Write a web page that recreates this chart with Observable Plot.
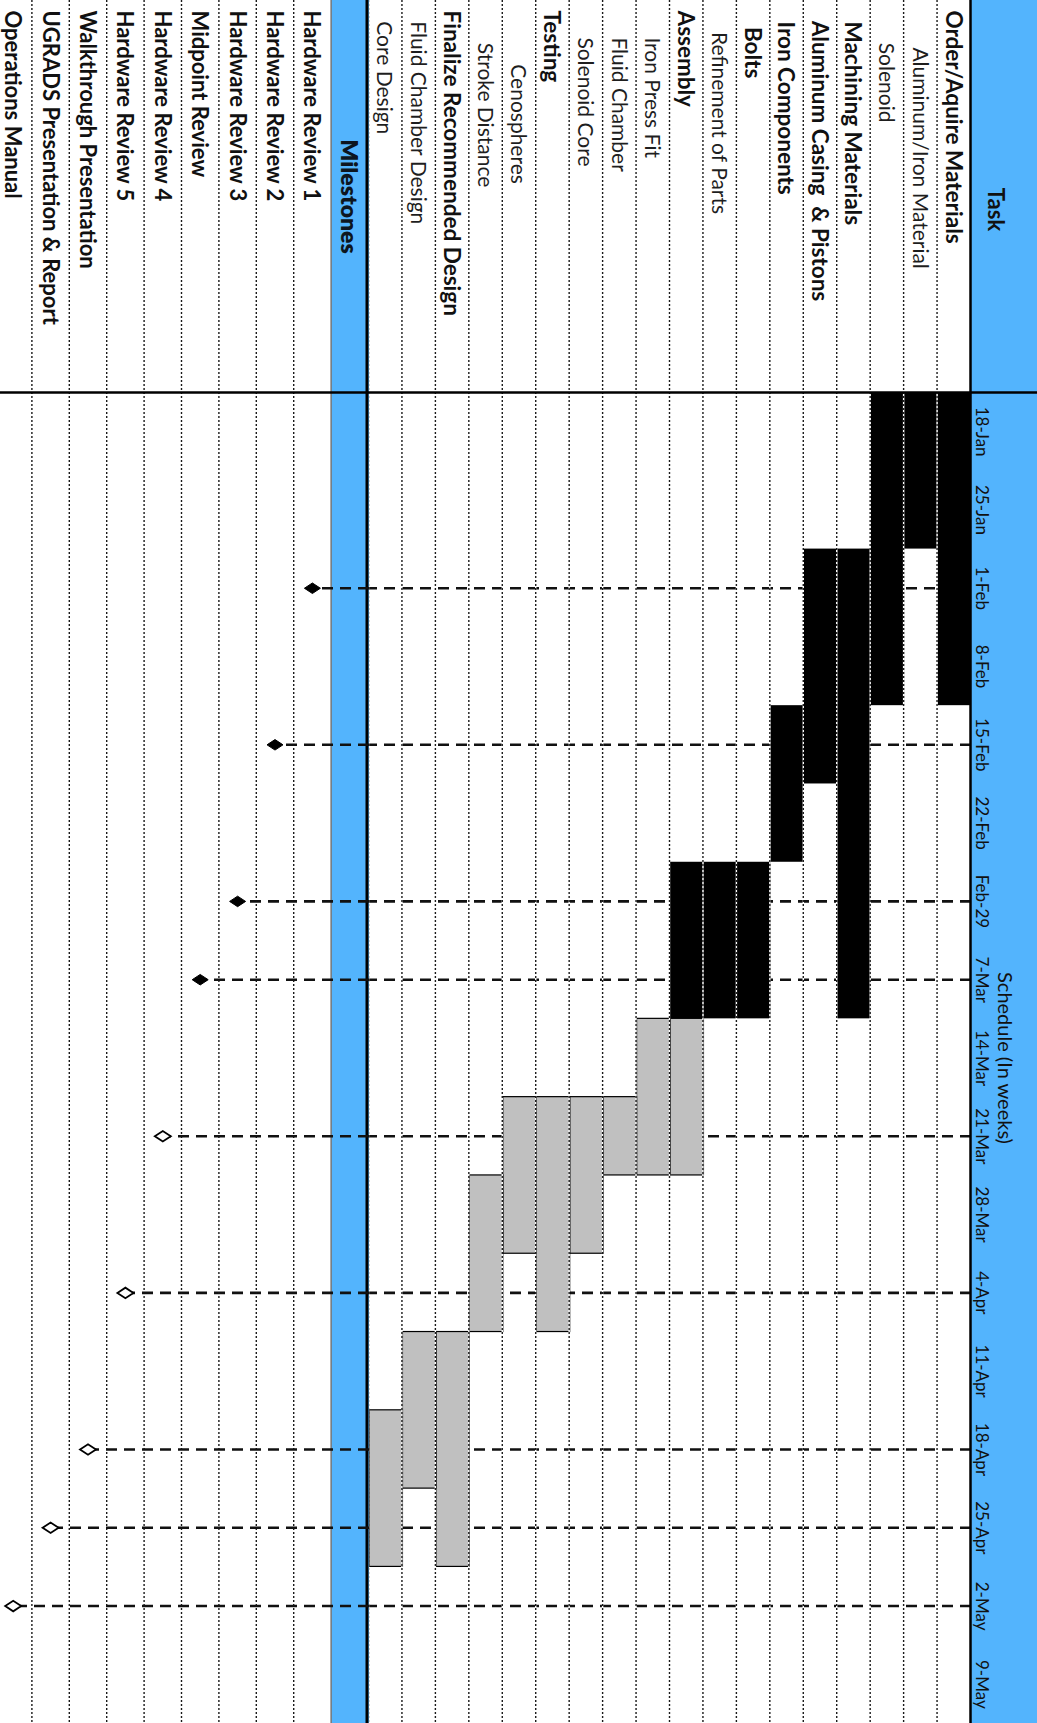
<!DOCTYPE html>
<html>
<head>
<meta charset="utf-8">
<script src="https://cdn.jsdelivr.net/npm/d3@7"></script>
<script src="https://cdn.jsdelivr.net/npm/@observablehq/plot@0.6"></script>
<style>
  html, body { margin: 0; padding: 0; background: #fff; overflow: hidden; }
  #sheet {
    position: absolute; left: 1037px; top: 0;
    width: 1723px; height: 1037px;
    transform-origin: 0 0; transform: rotate(90deg);
    background: #fff; color: #111; font-family: Lato, "Open Sans", sans-serif;
  }
  #sheet svg { display: block; white-space: pre; }
</style>
</head>
<body>
<div id="sheet"></div>
<script>
// ---------------- data ----------------
const weeks = ["18-Jan","25-Jan","1-Feb","8-Feb","15-Feb","22-Feb","Feb-29","7-Mar","14-Mar",
               "21-Mar","28-Mar","4-Apr","11-Apr","18-Apr","25-Apr","2-May","9-May"];

const taskNames = [
  "Order/Aquire Materials",
  "       Aluminum/Iron Material",
  "      Solenoid",
  "  Machining Materials",
  "  Aluminum Casing  & Pistons",
  "  Iron Components",
  "   Bolts",
  "    Refinement of Parts",
  "Assembly",
  "     Iron Press Fit",
  "     Fluid Chamber",
  "     Solenoid Core",
  "Testing",
  "          Cenospheres",
  "      Stroke Distance",
  "Finalize Recommended Design",
  "  Fluid Chamber Design",
  "  Core Design"
];
const taskBold = [true,false,false,true,true,true,true,false,true,false,false,false,true,false,false,true,false,false];

// schedule bars: task row, first week, last week (inclusive), status
const barTask   = [0,1,2,3,4,5,6,7,8,8,9,10,11,12,13,14,15,16,17];
const barStart  = ["18-Jan","18-Jan","18-Jan","1-Feb","1-Feb","15-Feb","Feb-29","Feb-29","Feb-29","14-Mar","14-Mar",
                   "21-Mar","21-Mar","21-Mar","21-Mar","28-Mar","11-Apr","11-Apr","18-Apr"];
const barEnd    = ["8-Feb","25-Jan","8-Feb","7-Mar","15-Feb","22-Feb","7-Mar","7-Mar","7-Mar","21-Mar","21-Mar",
                   "21-Mar","28-Mar","4-Apr","28-Mar","4-Apr","25-Apr","18-Apr","25-Apr"];
const barStatus = ["done","done","done","done","done","done","done","done","done","planned","planned",
                   "planned","planned","planned","planned","planned","planned","planned","planned"];

const sectionLabel = "Milestones";
const milestoneNames = ["Hardware Review 1","Hardware Review 2","Hardware Review 3","Midpoint Review",
                        "Hardware Review 4","Hardware Review 5","Walkthrough Presentation",
                        "UGRADS Presentation & Report","Operations Manual"];
const milestoneWeek = ["1-Feb","15-Feb","Feb-29","7-Mar","21-Mar","4-Apr","18-Apr","25-Apr","2-May"];
const milestoneStatus = ["done","done","done","done","planned","planned","planned","planned","planned"];

const headerTask = "Task";
const headerSchedule = "Schedule (In weeks)";

// ---------------- derived tables ----------------
const rows = taskNames.map((name, i) => ({name, i, bold: taskBold[i]}));
const bars = barTask.map((r, k) => ({
  row: r,
  x1: weeks.indexOf(barStart[k]),
  x2: weeks.indexOf(barEnd[k]) + 1,
  status: barStatus[k]
}));
const bRows = [{name: sectionLabel, i: 0, section: true}]
  .concat(milestoneNames.map((name, k) => ({name, i: k + 1, section: false})));
const ms = milestoneNames.map((name, k) => ({
  name, row: k + 1, x: weeks.indexOf(milestoneWeek[k]) + 0.5, status: milestoneStatus[k]
}));

// ---------------- styling ----------------
const W = 1723, LEFT = 392;
const BLUE = "#53b4fd", GREY = "#c0c0c0", INK = "#111";
const FONT = "Lato, 'Open Sans', sans-serif";

const tallDiamond = {
  draw(ctx, size) {
    const r = Math.sqrt(size / Math.PI);
    const w = r * 1.05, h = r * 1.6;
    ctx.moveTo(0, -h); ctx.lineTo(w, 0); ctx.lineTo(0, h); ctx.lineTo(-w, 0); ctx.closePath();
  }
};

const dotted = (data) => [
  Plot.ruleY(data, {y: d => d, stroke: "#fff", strokeWidth: 1.4, insetLeft: -LEFT}),
  Plot.ruleY(data, {y: d => d, stroke: "#1a1a1a", strokeWidth: 1.4, strokeDasharray: "2,2", insetLeft: -LEFT})
];

// ---------------- plot A: header + tasks ----------------
const plotA = Plot.plot({
  width: W, height: 668,
  marginTop: 66, marginLeft: LEFT, marginRight: 0, marginBottom: 0,
  style: {background: `linear-gradient(to bottom, ${BLUE} 66px, #fff 66px)`, fontFamily: FONT, overflow: "hidden"},
  x: {domain: [0, weeks.length], axis: null},
  y: {domain: [0, taskNames.length], reverse: true, axis: null},
  marks: [
    Plot.ruleX(ms, {x: "x", stroke: INK, strokeWidth: 2.6, strokeDasharray: "11,7"}),
    Plot.rect(bars.filter(d => d.status === "done"), {x1: "x1", x2: "x2", y1: "row", y2: d => d.row + 1, fill: "#000"}),
    Plot.rect(bars.filter(d => d.status === "planned"), {x1: "x1", x2: "x2", y1: "row", y2: d => d.row + 1, fill: GREY, stroke: "#000", strokeWidth: 1.2}),
    ...dotted(d3.range(1, taskNames.length + 1)),
    Plot.ruleY([0], {stroke: "#000", strokeWidth: 2.5, insetLeft: -LEFT}),
    Plot.ruleX([0], {stroke: "#000", strokeWidth: 2.5, insetTop: -66}),
    Plot.text(rows.filter(d => d.bold), {y: d => d.i + 0.5, text: "name", frameAnchor: "left", textAnchor: "start",
      lineAnchor: "middle", dx: -LEFT + 10, dy: 1, fontSize: 22.5, fontWeight: "bold", fill: INK}),
    Plot.text(rows.filter(d => !d.bold), {y: d => d.i + 0.5, text: "name", frameAnchor: "left", textAnchor: "start",
      lineAnchor: "middle", dx: -LEFT + 10, dy: 1, fontSize: 21, fill: "#1e1e1e"}),
    Plot.text(weeks, {x: (d, i) => i + 0.5, text: d => d, frameAnchor: "top", lineAnchor: "middle", dy: -11, fontSize: 17, fill: INK}),
    Plot.text([headerSchedule], {text: d => d, frameAnchor: "top", lineAnchor: "middle", dy: -34, fontSize: 20, fill: INK}),
    Plot.text([headerTask], {text: d => d, frameAnchor: "top-left", textAnchor: "middle", lineAnchor: "middle",
      dx: -183, dy: -25, fontSize: 22, fontWeight: "bold", fill: INK})
  ]
});

// ---------------- plot B: milestones ----------------
const plotB = Plot.plot({
  width: W, height: 369,
  marginTop: 0, marginLeft: LEFT, marginRight: 0, marginBottom: -5,
  style: {background: "#fff", fontFamily: FONT, overflow: "hidden"},
  x: {domain: [0, weeks.length], axis: null},
  y: {domain: [0, bRows.length], reverse: true, axis: null},
  marks: [
    Plot.rect(bRows.filter(d => d.section), {y1: "i", y2: d => d.i + 1, fill: BLUE, insetLeft: -LEFT}),
    ...dotted(d3.range(2, bRows.length + 1)),
    Plot.ruleY(bRows.filter(d => d.section), {y: d => d.i + 1, stroke: "#555", strokeWidth: 1.2, insetLeft: -LEFT}),
    Plot.ruleY(bRows.filter(d => d.section), {y: "i", stroke: "#000", strokeWidth: 3, dy: 1.5, insetLeft: -LEFT}),
    Plot.ruleX(ms, {x: "x", y1: 0, y2: d => d.row + 0.5, stroke: INK, strokeWidth: 2.6, strokeDasharray: "11,7"}),
    Plot.ruleX([0], {stroke: "#000", strokeWidth: 2.5}),
    Plot.dot(ms.filter(d => d.status === "done"), {x: "x", y: d => d.row + 0.5, symbol: tallDiamond, r: 5, fill: "#000", stroke: "#000", strokeWidth: 1}),
    Plot.dot(ms.filter(d => d.status === "planned"), {x: "x", y: d => d.row + 0.5, symbol: tallDiamond, r: 5, fill: "#fff", stroke: "#000", strokeWidth: 1.8}),
    Plot.text(bRows.filter(d => d.section), {y: d => d.i + 0.5, text: "name", frameAnchor: "left", textAnchor: "middle",
      lineAnchor: "middle", dx: -LEFT / 2, dy: 1, fontSize: 23, fontWeight: 800, fill: "#0d1620"}),
    Plot.text(bRows.filter(d => !d.section), {y: d => d.i + 0.5, text: "name", frameAnchor: "left", textAnchor: "start",
      lineAnchor: "middle", dx: -LEFT + 10, dy: 1, fontSize: 22, fontWeight: "bold", fill: INK})
  ]
});

const sheet = document.getElementById("sheet");
sheet.appendChild(plotA);
sheet.appendChild(plotB);
</script>
</body>
</html>
